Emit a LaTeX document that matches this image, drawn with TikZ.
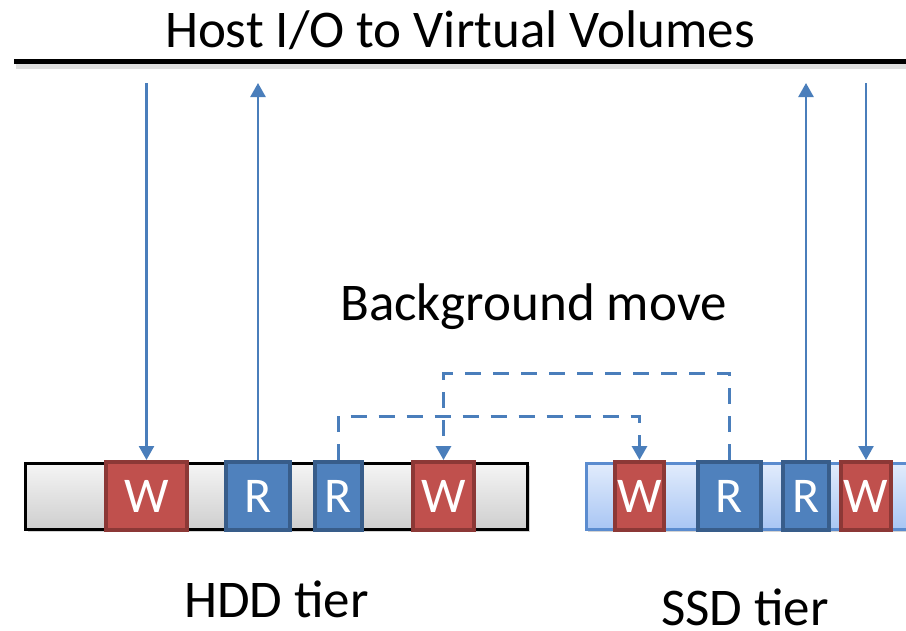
\documentclass[tikz,border=0pt]{standalone}
\usepackage{fontspec}
\setmainfont{Carlito}
\usetikzlibrary{arrows.meta,shadows}

\definecolor{linkblue}{HTML}{4A7EBB}
\definecolor{wfill}{HTML}{C0504D}
\definecolor{wedge}{HTML}{8C3836}
\definecolor{rfill}{HTML}{4F81BD}
\definecolor{redge}{HTML}{385D8A}
\definecolor{ssdtop}{HTML}{E2ECFC}
\definecolor{ssdbot}{HTML}{A9C6F4}
\definecolor{ssdedge}{HTML}{5B8CCF}

\tikzset{
  softshadow/.style={drop shadow={opacity=0.35,shadow xshift=2pt,shadow yshift=-3pt}},
  hddbar/.style={draw=black,line width=3pt,top color=gray!8,bottom color=gray!38,
    minimum height=66pt,inner sep=0pt,softshadow},
  ssdbar/.style={draw=ssdedge,line width=3pt,top color=ssdtop,bottom color=ssdbot,
    minimum height=66pt,inner sep=0pt,softshadow},
  blk/.style={line width=4pt,minimum height=68pt,inner sep=0pt,text=white,
    font=\fontsize{50}{50}\selectfont},
  wblk/.style={blk,draw=wedge,fill=wfill},
  rblk/.style={blk,draw=redge,fill=rfill},
  hostio/.style={draw=linkblue,line width=2.5pt,-{Triangle[width=15pt,length=14pt]}},
  movepath/.style={draw=linkblue,line width=3pt,dash pattern=on 16pt off 12pt,
    -{Triangle[width=15pt,length=14pt]}},
  label/.style={font=\fontsize{53}{53}\selectfont,inner sep=0pt,anchor=base}
}

\begin{document}
\begin{tikzpicture}[x=1pt,y=-1pt]
\useasboundingbox (0,0) rectangle (906,630);

% title and host bus line
\node[label] (title) at (460,47) {Host I/O to Virtual Volumes};
\draw[gray,opacity=0.25,line width=5pt] (16,66.5) -- (906,66.5);
\draw[black,line width=5pt] (14,61) -- (906,61);

% storage tiers
\node[hddbar,minimum width=502pt] (hdd) at (276.5,496) {};
\node[ssdbar,minimum width=400pt,anchor=west] (ssd) at (584.5,496) {};

% extents on the HDD tier
\node[wblk,minimum width=81pt] (w1) at (146.5,496) {W};
\node[rblk,minimum width=64pt] (r1) at (258,496) {R};
\node[rblk,minimum width=47pt] (r2) at (338.5,496) {R};
\node[wblk,minimum width=61pt] (w2) at (443.5,496) {W};

% extents on the SSD tier
\node[wblk,minimum width=49pt] (w3) at (639.5,496) {W};
\node[rblk,minimum width=63pt] (r3) at (729.5,496) {R};
\node[rblk,minimum width=46pt] (r4) at (806,496) {R};
\node[wblk,minimum width=50pt] (w4) at (866,496) {W};

% host I/O end points on the bus side
\coordinate (h1) at (146.5,83);
\coordinate (h2) at (258,83);
\coordinate (h3) at (806,83);
\coordinate (h4) at (866,83);

\draw[hostio] (h1) -- (w1.north);
\draw[hostio] (r1.north) -- (h2);
\draw[hostio] (r4.north) -- (h3);
\draw[hostio] (h4) -- (w4.north);

% background data movement between tiers
\node[label] (bg) at (533.5,320) {Background move};
\draw[movepath] (r2.north) -- (r2.north |- 0,416) -| (w3.north);
\draw[movepath] (r3.north) -- (r3.north |- 0,373) -| (w2.north);

% tier captions
\node[label] (hddlbl) at (276.5,617) {HDD tier};
\node[label] (ssdlbl) at (745,625) {SSD tier};
\end{tikzpicture}
\end{document}
